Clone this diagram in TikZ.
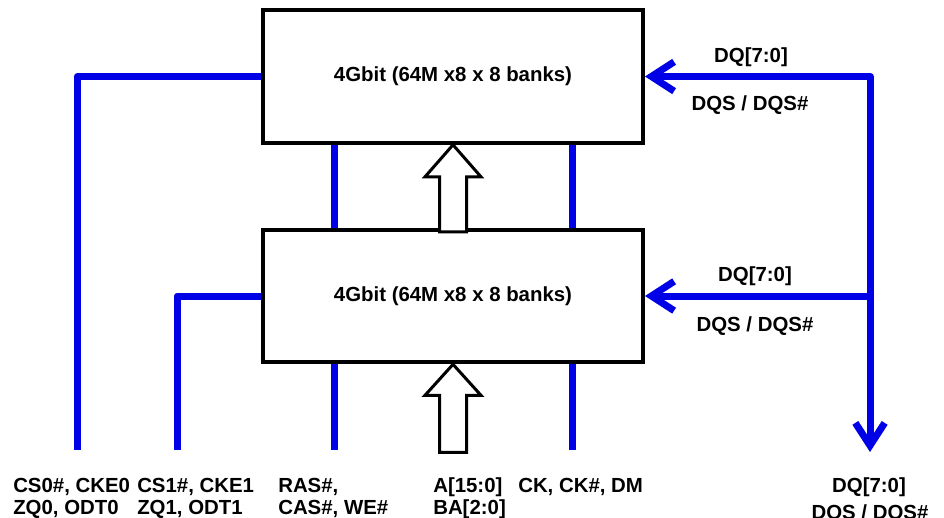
\documentclass[tikz,border=0pt]{standalone}
\usepackage{fontspec}
\setmainfont{Liberation Sans}
\usepackage{xcolor}
\usepackage{tikz}
\usetikzlibrary{arrows.meta}
\usetikzlibrary{calc}
\definecolor{busblue}{RGB}{0,0,230}
\tikzset{
	chip/.style={draw,line width=3pt,minimum width=285pt,minimum height=99.5pt},
	bus/.style={draw=busblue,line width=5.25pt,line join=round},
	barb/.tip={Straight Barb[length=17pt,width=22pt]},
	hollow/.style={draw,fill=white,line width=2.25pt,line join=miter}
}
\begin{document}
\begin{tikzpicture}[x=0.75pt,y=-0.75pt,
	every node/.style={font=\bfseries\fontsize{15.3}{16.5}\selectfont}]
\useasboundingbox (0,0) rectangle (944,517);
\node[chip] (upper) at (453,76.5) {4Gbit (64M x8 x 8 banks)};
\node[chip] (lower) at (453,296) {4Gbit (64M x8 x 8 banks)};
\coordinate (cs0end) at (77,450);
\coordinate (cs1end) at (177,450);
\coordinate (rasend) at (334,450);
\coordinate (ckend) at (572,450);
\coordinate (dqcorner) at (870,76.5);
\coordinate (dqend) at (870,452);
% chip selects
\draw[bus] (upper.west) -- (cs0end |- upper.west) -- (cs0end);
\draw[bus] (lower.west) -- (cs1end |- lower.west) -- (cs1end);
% shared command and clock lines
\draw[bus] (rasend |- upper.south) -- (rasend |- lower.north);
\draw[bus] (rasend |- lower.south) -- (rasend);
\draw[bus] (ckend |- upper.south) -- (ckend |- lower.north);
\draw[bus] (ckend |- lower.south) -- (ckend);
% data
\draw[bus,barb-barb] (upper.east) -- (dqcorner) -- (dqend);
\draw[bus,-barb] (dqcorner |- lower.east) -- (lower.east);
% address
\draw[hollow] (upper.south) -- ++(28,32) -- ++(-14.5,0) -- ++(0,55) -- ++(-27,0) -- ++(0,-55) -- ++(-14.5,0) -- cycle;
\draw[hollow] (lower.south) -- ++(28,31) -- ++(-14.5,0) -- ++(0,57) -- ++(-27,0) -- ++(0,-57) -- ++(-14.5,0) -- cycle;
\node[anchor=base] (dqupper) at (751,63) {DQ[7:0]};
\node[anchor=base] (dqsupper) at (750,110) {DQS / DQS\#};
\node[anchor=base] (dqlower) at (755,281) {DQ[7:0]};
\node[anchor=base] (dqslower) at (755,331) {DQS / DQS\#};
\node[anchor=base west,align=left,inner sep=0pt] (cs0label) at (13,514) {CS0\#, CKE0\\ZQ0, ODT0};
\node[anchor=base west,align=left,inner sep=0pt] (cs1label) at (137,514) {CS1\#, CKE1\\ZQ1, ODT1};
\node[anchor=base west,align=left,inner sep=0pt] (raslabel) at (278,514) {RAS\#,\\CAS\#, WE\#};
\node[anchor=base west,align=left,inner sep=0pt] (addrlabel) at (433,514) {A[15:0]\\BA[2:0]};
\node[anchor=base west,inner sep=0pt] (cklabel) at (518,492) {CK, CK\#, DM};
\node[anchor=base] (dqout) at (869,492) {DQ[7:0]};
\node[anchor=base] (dqsout) at (870,519) {DQS / DQS\#};
\end{tikzpicture}
\end{document}
